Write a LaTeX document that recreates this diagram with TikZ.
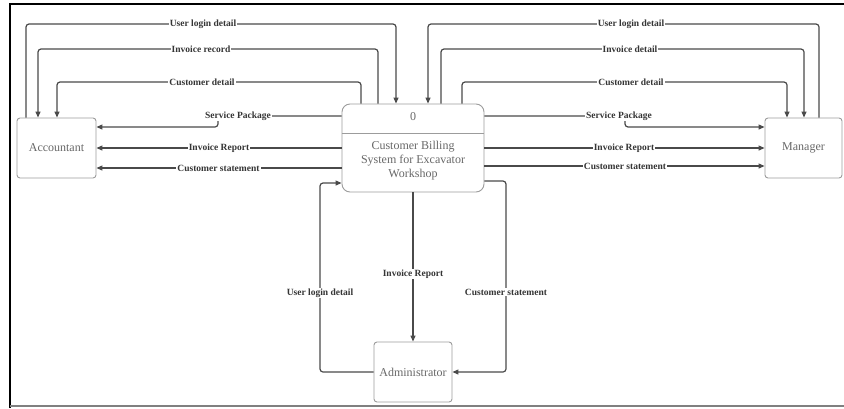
\documentclass[tikz,border=0pt]{standalone}
\usepackage{fontspec}
\setmainfont{Liberation Serif}
\usetikzlibrary{arrows.meta}
\definecolor{linecol}{HTML}{4A4A4A}
\definecolor{boxcol}{HTML}{9C9C9C}
\definecolor{boxtext}{HTML}{686868}
\definecolor{lbltext}{HTML}{353535}
\tikzset{
  entity/.style={draw=boxcol, line width=0.9pt, rounded corners=3pt, fill=white,
    minimum height=60pt, inner sep=0pt, text=boxtext, font=\fontsize{12}{14}\selectfont},
  procbox/.style={draw=boxcol, line width=0.9pt, rounded corners=8pt, fill=white,
    minimum width=142pt, minimum height=88pt, inner sep=0pt},
  proctext/.style={text=boxtext, align=center, font=\fontsize{12}{14}\selectfont, inner sep=0pt},
  flow/.style={draw=linecol, line width=1.2pt, rounded corners=3pt,
    -{Triangle[length=6pt,width=5pt]}},
  lbl/.style={fill=white, text=lbltext, inner sep=1pt,
    font=\bfseries\fontsize{9.5}{11}\selectfont}
}
\begin{document}
\begin{tikzpicture}[x=1pt,y=-1pt]
\useasboundingbox (0,0) rectangle (844,408);
\fill[white] (0,0) rectangle (844,408);

% page frame
\draw[black, line width=2pt] (10,408) -- (10,4) -- (844,4);
\draw[gray, line width=2pt] (10,406) -- (844,406);

% entities and the process
\node[procbox] (proc) at (413,148) {};
\draw[draw=boxcol, line width=0.9pt] ([yshift=15pt]proc.west) -- ([yshift=15pt]proc.east);
\node[proctext] (pnum) at (413,117) {0};
\node[proctext] (pname) at (413,161) {Customer Billing\\System for Excavator\\Workshop};

\node[entity, minimum width=79pt] (acc) at (56.5,148) {Accountant};
\node[entity, minimum width=77pt] (mgr) at (803.5,148) {Manager};
\node[entity, minimum width=78pt] (adm) at (413,372) {Administrator};

% label anchors on the upper routes
\coordinate (Lul) at (203,24);
\coordinate (Lir) at (201,49);
\coordinate (Lcd) at (202,82);
\coordinate (Rul) at (631,24);
\coordinate (Rid) at (630,49);
\coordinate (Rcd) at (631,82);
\coordinate (spL) at (218,127);
\coordinate (spR) at (625,127);
\coordinate (ulB) at (320,183);
\coordinate (csB) at (506,372);

% accountant side
\draw[flow] ([xshift=-30.5pt]acc.north) |- (Lul) -| ([xshift=-17pt]proc.north);
\draw[flow] ([xshift=-35pt]proc.north) |- (Lir) -| ([xshift=-18.5pt]acc.north);
\draw[flow] ([xshift=-52pt]proc.north) |- (Lcd) -| ([xshift=0.5pt]acc.north);
\draw[flow] ([yshift=32pt]proc.west) -| (spL) -- ([yshift=21pt]acc.east);
\draw[flow] (proc.west) -- (acc.east);
\draw[flow] ([yshift=-20pt]proc.west) -- ([yshift=-20pt]acc.east);

% manager side
\draw[flow] ([xshift=15.5pt]mgr.north) |- (Rul) -| ([xshift=15pt]proc.north);
\draw[flow] ([xshift=28pt]proc.north) |- (Rid) -| ([xshift=0.5pt]mgr.north);
\draw[flow] ([xshift=49pt]proc.north) |- (Rcd) -| ([xshift=-16.5pt]mgr.north);
\draw[flow] ([yshift=32pt]proc.east) -| (spR) -- ([yshift=21pt]mgr.west);
\draw[flow] (proc.east) -- (mgr.west);
\draw[flow] ([yshift=-18pt]proc.east) -- ([yshift=-18pt]mgr.west);

% administrator side
\draw[flow] (proc.south) -- (adm.north);
\draw[flow] (adm.west) -| (ulB) -- ([yshift=-35pt]proc.west);
\draw[flow] ([yshift=-33pt]proc.east) -| (csB) -- (adm.east);

% flow labels
\node[lbl] (t1) at (Lul) {User login detail};
\node[lbl] (t2) at (Lir) {Invoice record};
\node[lbl] (t3) at (Lcd) {Customer detail};
\node[lbl] (t4) at (238,116) {Service Package};
\node[lbl] (t5) at (219,148) {Invoice Report};
\node[lbl] (t6) at (218.5,168) {Customer statement};
\node[lbl] (t7) at (Rul) {User login detail};
\node[lbl] (t8) at (Rid) {Invoice detail};
\node[lbl] (t9) at (Rcd) {Customer detail};
\node[lbl] (t10) at (619,116) {Service Package};
\node[lbl] (t11) at (624,148) {Invoice Report};
\node[lbl] (t12) at (625,166) {Customer statement};
\node[lbl] (t13) at (413,274) {Invoice Report};
\node[lbl] (t14) at (320,293) {User login detail};
\node[lbl] (t15) at (506,292) {Customer statement};
\end{tikzpicture}
\end{document}
